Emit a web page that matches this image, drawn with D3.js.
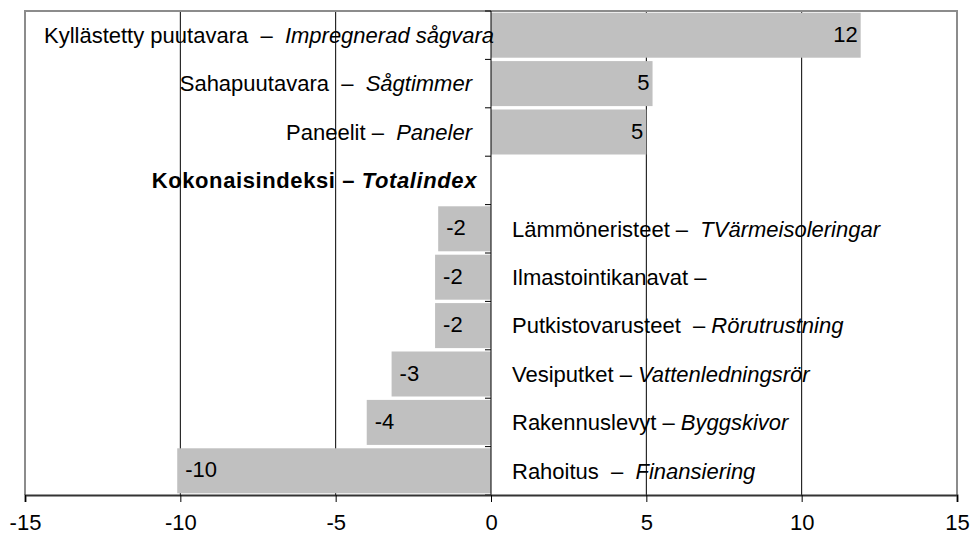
<!DOCTYPE html>
<html>
<head>
<meta charset="utf-8">
<script src="https://cdn.jsdelivr.net/npm/d3@7"></script>
<style>
  body { margin: 0; background: #fff; }
  text { font-family: "Liberation Sans", Arial, sans-serif; font-size: 22px; fill: #000; white-space: pre; }
</style>
</head>
<body>
<div id="chart"></div>
<script>
// Finnish part of each category (with its dash), Swedish part in italics
const namesFi = [
  "Kyllästetty puutavara  –  ",
  "Sahapuutavara  –  ",
  "Paneelit –  ",
  "Kokonaisindeksi – ",
  "Lämmöneristeet –  ",
  "Ilmastointikanavat –",
  "Putkistovarusteet  – ",
  "Vesiputket – ",
  "Rakennuslevyt – ",
  "Rahoitus  –  "
];
const namesSv = [
  "Impregnerad sågvara",
  "Sågtimmer",
  "Paneler",
  "Totalindex",
  "TVärmeisoleringar",
  "",
  "Rörutrustning",
  "Vattenledningsrör",
  "Byggskivor",
  "Finansiering"
];
const values = [11.9, 5.2, 5.0, 0, -1.7, -1.8, -1.8, -3.2, -4.0, -10.1];
const totalIndex = 3;
const xTicks = [-15, -10, -5, 0, 5, 10, 15];

const width = 970, height = 536;
const margin = { top: 11, right: 13, bottom: 41, left: 25 };

const svg = d3.select("#chart").append("svg")
  .attr("width", width)
  .attr("height", height);

const x = d3.scaleLinear()
  .domain([-15, 15])
  .range([margin.left, width - margin.right]);

const y = d3.scaleBand()
  .domain(d3.range(values.length))
  .range([margin.top, height - margin.bottom])
  .paddingInner(0.07)
  .paddingOuter(0.035);

const plotTop = margin.top, plotBottom = height - margin.bottom;

// Vertical gridlines (behind bars)
svg.append("g")
  .selectAll("line")
  .data(xTicks.filter(t => t !== 0 && Math.abs(t) !== 15))
  .enter().append("line")
  .attr("x1", d => x(d)).attr("x2", d => x(d))
  .attr("y1", plotTop).attr("y2", plotBottom)
  .attr("stroke", "#000")
  .attr("stroke-width", 1);

// Plot border (top, left, right)
svg.append("path")
  .attr("d", `M${x(-15)},${plotBottom}V${plotTop}H${x(15)}V${plotBottom}`)
  .attr("fill", "none")
  .attr("stroke", "#8c8c8c")
  .attr("stroke-width", 2);

// Bars
svg.append("g")
  .selectAll("rect")
  .data(values)
  .enter().append("rect")
  .attr("x", d => x(Math.min(0, d)))
  .attr("y", (d, i) => y(i))
  .attr("width", d => Math.abs(x(d) - x(0)))
  .attr("height", y.bandwidth())
  .attr("fill", "#c0c0c0");

// Zero line with category ticks
svg.append("line")
  .attr("x1", x(0)).attr("x2", x(0))
  .attr("y1", plotTop).attr("y2", plotBottom)
  .attr("stroke", "#000")
  .attr("stroke-width", 1);

const step = y.step();
svg.append("g")
  .selectAll("line")
  .data(d3.range(values.length + 1))
  .enter().append("line")
  .attr("x1", x(0) - 6).attr("x2", x(0))
  .attr("y1", i => plotTop + i * step)
  .attr("y2", i => plotTop + i * step)
  .attr("stroke", "#000");

// Bottom axis
const xAxis = svg.append("g")
  .attr("transform", `translate(0,${plotBottom})`)
  .call(d3.axisBottom(x).tickValues(xTicks).tickFormat(d => String(d)).tickSize(7).tickPadding(12));
xAxis.select(".domain").attr("stroke", "#333").attr("stroke-width", 2);
xAxis.selectAll(".tick line").attr("stroke", "#000");
xAxis.selectAll(".tick text")
  .style("font-family", "'Liberation Sans', Arial, sans-serif")
  .style("font-size", "22px")
  .attr("fill", "#000");

// Category labels: left of zero for rising items, right of zero for falling
const labelDx = i => (i === 0 ? 3 : i === totalIndex ? -14 : -19);
const labels = svg.append("g")
  .selectAll("text")
  .data(values)
  .enter().append("text")
  .attr("x", (d, i) => d > 0 || i === totalIndex ? x(0) + labelDx(i) : x(0) + 21)
  .attr("y", (d, i) => y(i) + y.bandwidth() / 2)
  .attr("dy", "0.35em")
  .attr("text-anchor", (d, i) => d > 0 || i === totalIndex ? "end" : "start")
  .style("font-weight", (d, i) => i === totalIndex ? "bold" : null)
  .style("letter-spacing", (d, i) => i === totalIndex ? "0.6px" : null);

labels.append("tspan").text((d, i) => namesFi[i]);
labels.append("tspan").style("font-style", "italic").text((d, i) => namesSv[i]);

// Value labels inside bar ends
svg.append("g")
  .selectAll("text")
  .data(values.map((v, i) => ({ v, i })).filter(d => d.v !== 0))
  .enter().append("text")
  .attr("x", d => d.v > 0 ? x(d.v) - 3 : x(d.v) + 8)
  .attr("y", d => y(d.i) + y.bandwidth() / 2)
  .attr("dy", "0.3em")
  .attr("text-anchor", d => d.v > 0 ? "end" : "start")
  .text(d => Math.round(d.v));
</script>
</body>
</html>
